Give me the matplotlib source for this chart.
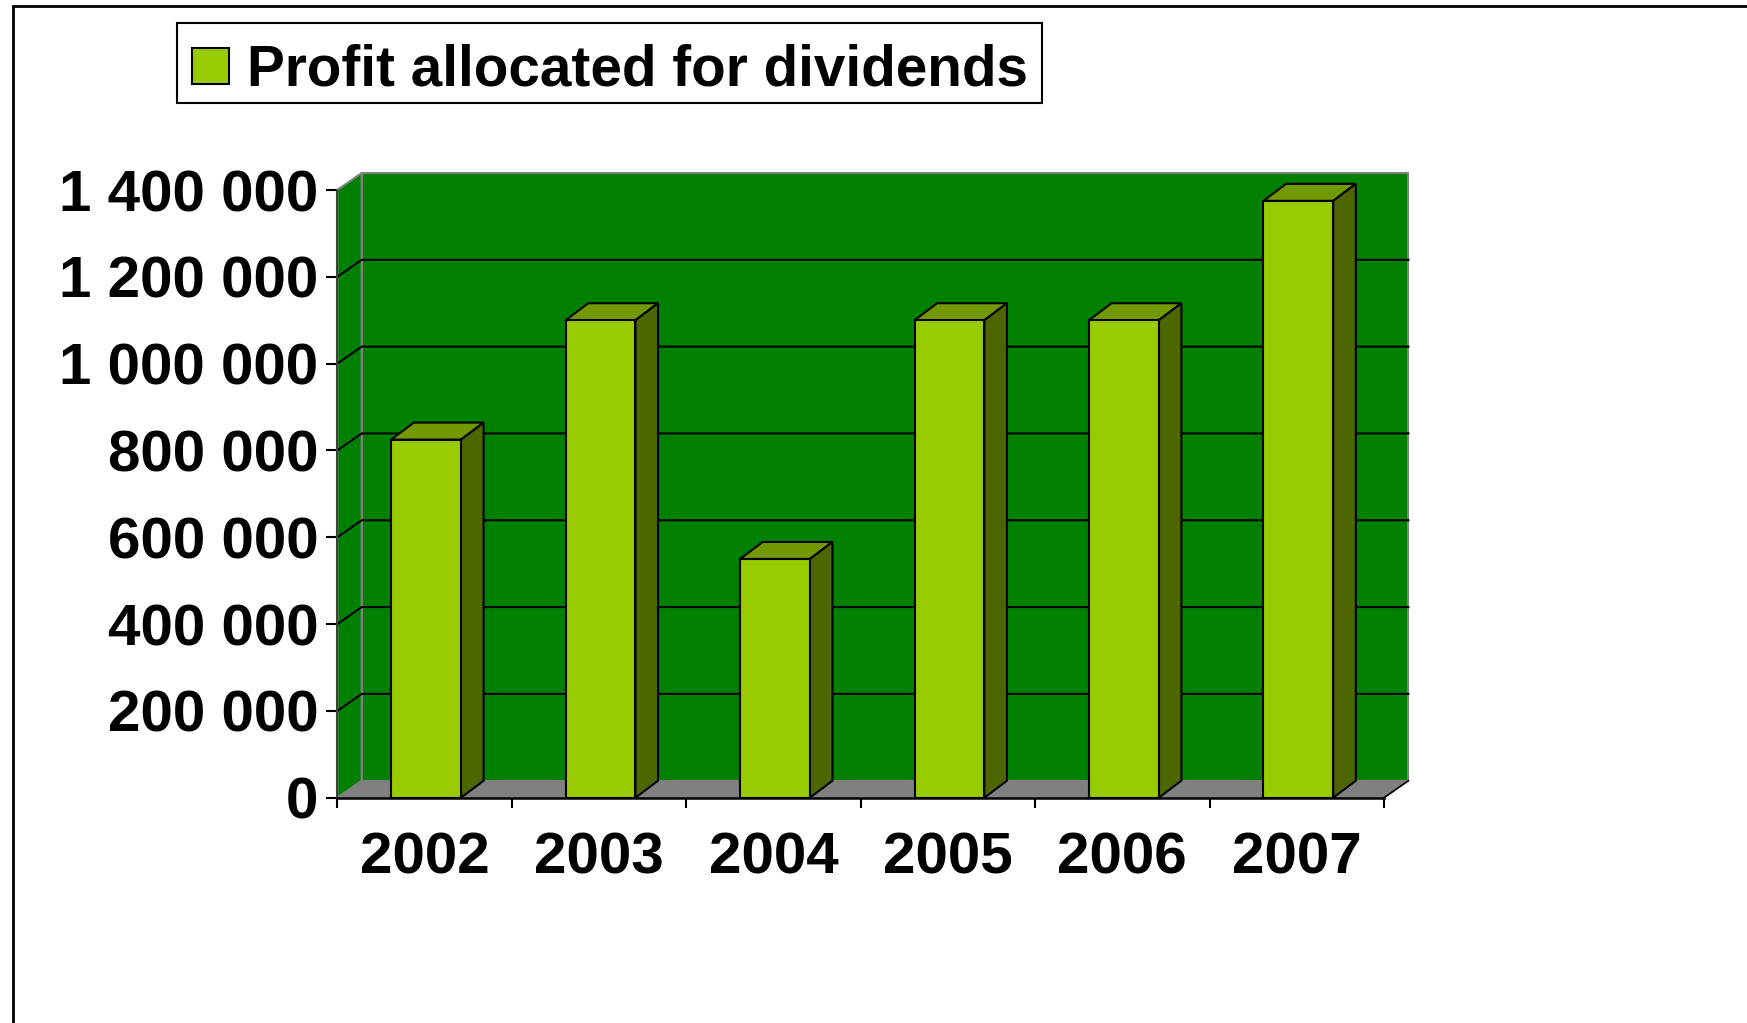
import numpy as np
import matplotlib
matplotlib.use("Agg")
import matplotlib.pyplot as plt
from matplotlib.patches import Polygon, Patch, Rectangle
from matplotlib.lines import Line2D

years = ["2002", "2003", "2004", "2005", "2006", "2007"]
profit = [825000, 1100000, 550000, 1100000, 1100000, 1375000]
y_ticks = [0, 200000, 400000, 600000, 800000, 1000000, 1200000, 1400000]
y_labels = ["0", "200 000", "400 000", "600 000", "800 000", "1 000 000", "1 200 000", "1 400 000"]
legend_label = "Profit allocated for dividends"

W, H = 1747, 1023
plt.rcParams["font.family"] = ["Liberation Sans", "DejaVu Sans"]
plt.rcParams["font.weight"] = "bold"
fig = plt.figure(figsize=(W / 100, H / 100), dpi=100, facecolor="white")

# front plane of the 3-D box, in pixels
L, R, T, B = 337.3, 1384.0, 190.0, 797.7
ax = fig.add_axes([L / W, 1 - B / H, (R - L) / W, (B - T) / H])
ax.set_xlim(0, 6)
ax.set_ylim(0, 1400000)
ax.set_facecolor("none")

px = 6 / (R - L)
py = 1400000 / (B - T)
dx, dy = 24.4 * px, 17.0 * py      # depth of the box
bdx, bdy = 22.6 * px, 17.0 * py    # depth of a bar
ymax = y_ticks[-1]
GREEN, GREY, FRONT, TOP, SIDE = "#008000", "#808080", "#99CC00", "#739900", "#4D6600"
EDGE = 1.5

# walls and floor
ax.add_patch(Polygon([(dx, dy), (6 + dx, dy), (6 + dx, ymax + dy), (dx, ymax + dy)],
                     fc=GREEN, ec=GREY, lw=EDGE, clip_on=False, zorder=1))
ax.add_patch(Polygon([(0, 0), (dx, dy), (dx, ymax + dy), (0, ymax)],
                     fc=GREEN, ec=GREY, lw=EDGE, clip_on=False, zorder=1))
ax.add_patch(Polygon([(0, 0), (6, 0), (6 + dx, dy), (dx, dy)],
                     fc=GREY, ec=GREY, lw=1, clip_on=False, zorder=1.5))
ax.add_line(Line2D([6, 6 + dx], [0, dy], color="black", lw=1.2, clip_on=False, zorder=1.6))

# gridlines on back and left walls
for v in y_ticks[1:-1]:
    ax.add_line(Line2D([0, dx, 6 + dx], [v, v + dy, v + dy], color="black", lw=EDGE,
                       clip_on=False, zorder=2, solid_joinstyle="miter"))

# bars
centers = np.arange(len(years)) + 0.5
bar_w = 0.4
off = 0.009
ax.bar(centers + off, profit, width=bar_w, color=FRONT, edgecolor="black", linewidth=EDGE, zorder=4)
for c, v in zip(centers + off, profit):
    x0, x1 = c - bar_w / 2, c + bar_w / 2
    ax.add_patch(Polygon([(x0, v), (x1, v), (x1 + bdx, v + bdy), (x0 + bdx, v + bdy)],
                         fc=TOP, ec="black", lw=EDGE, clip_on=False, zorder=3))
    ax.add_patch(Polygon([(x1, 0), (x1 + bdx, bdy), (x1 + bdx, v + bdy), (x1, v)],
                         fc=SIDE, ec="black", lw=EDGE, clip_on=False, zorder=3))

# axes
for s in ("top", "right"):
    ax.spines[s].set_visible(False)
ax.spines["left"].set_color("#404040")
ax.spines["left"].set_linewidth(EDGE)
ax.spines["left"].set_zorder(2.5)
ax.spines["bottom"].set_color("black")
ax.spines["bottom"].set_linewidth(EDGE + 0.3)
ax.spines["bottom"].set_zorder(5)

ax.set_yticks(y_ticks)
ax.set_yticklabels(y_labels, fontsize=42, fontweight="bold")
ax.tick_params(axis="y", length=7.7, width=EDGE, pad=6, color="black")
ax.set_xticks(np.arange(len(years) + 1))
ax.set_xticklabels([])
ax.tick_params(axis="x", which="major", length=7.5, width=EDGE, color="black")
ax.set_xticks(centers, minor=True)
ax.set_xticklabels(years, minor=True, fontsize=42, fontweight="bold")
ax.tick_params(axis="x", which="minor", length=0, pad=24.5)

# outer frame, open at right and bottom
fig.add_artist(Line2D([13 / W, 13 / W, 1], [0, 1 - 6 / H, 1 - 6 / H], color="black", lw=2,
                      solid_joinstyle="miter"))

# legend: the box is drawn on its own so the entry can sit low inside it
fig.add_artist(Rectangle((177 / W, 1 - 102.5 / H), 865 / W, 79.5 / H, transform=fig.transFigure,
                         fc="white", ec="black", lw=EDGE))
handle = Patch(fc=FRONT, ec="black", lw=EDGE)
leg = fig.legend([handle], [legend_label], loc="upper left",
                 bbox_to_anchor=(177 / W, 1 - 23 / H), borderaxespad=0,
                 frameon=False, borderpad=0.27, handlelength=0.64, handleheight=0.6,
                 handletextpad=0.33, prop={"size": 40.8, "weight": "bold"})
leg.get_texts()[0].set_y(-5.5)
swatch = leg.get_patches()[0]
swatch.set_y(swatch.get_y() - 4.0)

fig.savefig("out.png", dpi=100, facecolor="white")
